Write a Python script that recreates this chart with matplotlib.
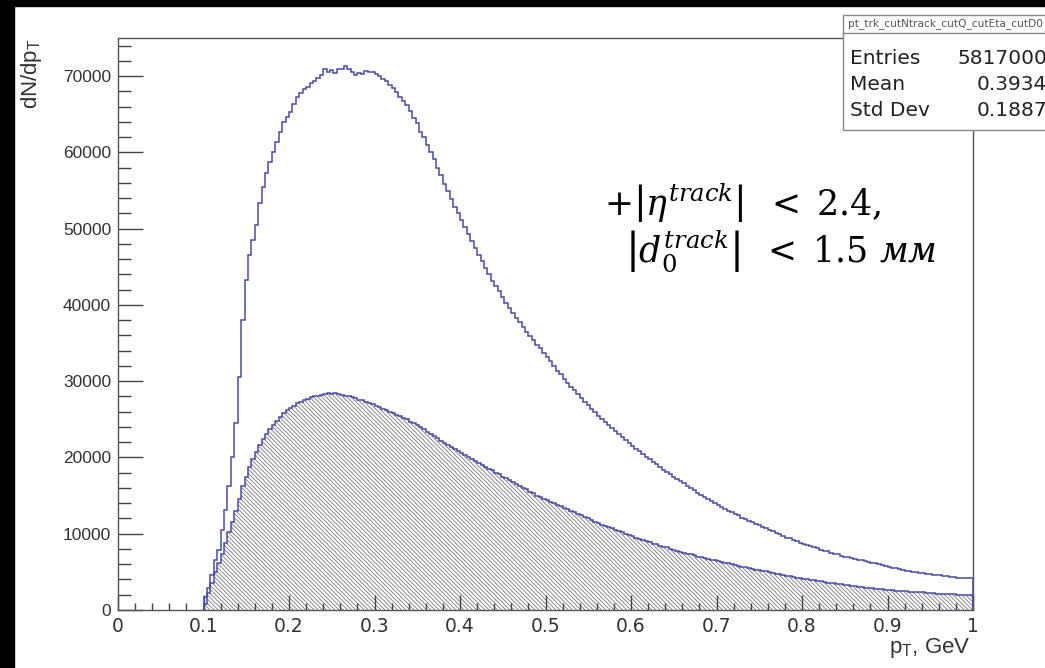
import numpy as np
import matplotlib
matplotlib.use('Agg')
import matplotlib.pyplot as plt
from matplotlib.patches import Rectangle
from matplotlib.lines import Line2D
from matplotlib.ticker import MultipleLocator, FuncFormatter

# histogram binning: 225 bins of 0.004 GeV from 0.1 to 1.0 (everything below 0.1 is empty)
pt_lo = 0.1
pt_hi = 1.0
n_bins = 225

# all tracks (open blue histogram)
counts_all = [
    1700, 2900, 4600, 6600, 7900, 10500, 13100, 16200, 20000, 24500,
    30500, 38000, 43300, 46600, 48500, 50500, 53400, 55400, 57300, 58800,
    60000, 61300, 62700, 64000, 64700, 65300, 66400, 67200, 67800, 68300,
    68600, 69100, 69300, 69700, 70200, 70900, 70500, 70800, 70400, 70900,
    71000, 71300, 70900, 70500, 70200, 70400, 70300, 70700, 70500, 70600,
    70300, 70000, 69600, 69300, 68900, 68400, 67900, 67300, 66800, 66200,
    65400, 64500, 63800, 62700, 62000, 61000, 60100, 59100, 58000, 57100,
    55900, 54900, 53900, 52900, 52000, 51200, 50200, 49300, 48400, 47500,
    46600, 45800, 44900, 44000, 43200, 42500, 41800, 41000, 40300, 39600,
    38900, 38300, 37700, 37100, 36500, 35900, 35400, 34800, 34300, 33700,
    33200, 32600, 32000, 31400, 30900, 30300, 29800, 29300, 28800, 28300,
    27800, 27300, 26900, 26400, 26000, 25500, 25100, 24700, 24300, 23900,
    23500, 23100, 22700, 22300, 21900, 21500, 21100, 20800, 20400, 20100,
    19800, 19400, 19100, 18800, 18400, 18100, 17800, 17500, 17200, 16900,
    16600, 16300, 16000, 15700, 15400, 15100, 14800, 14500, 14300, 14000,
    13800, 13500, 13300, 13000, 12800, 12600, 12400, 12100, 11900, 11700,
    11500, 11300, 11100, 10900, 10700, 10500, 10300, 10100, 9900, 9700,
    9500, 9400, 9200, 9000, 8800, 8700, 8500, 8400, 8200, 8100,
    7900, 7800, 7700, 7500, 7400, 7300, 7100, 7000, 6900, 6800,
    6700, 6600, 6500, 6400, 6300, 6200, 6100, 6000, 5900, 5800,
    5650, 5550, 5450, 5350, 5250, 5150, 5050, 5000, 4950, 4850,
    4800, 4750, 4700, 4650, 4600, 4550, 4450, 4400, 4350, 4300,
    4250, 4250, 4200, 4200, 4150,
]

# tracks after |eta| and |d0| cuts (hatched histogram)
counts_cut = [
    800, 2200, 3600, 5000, 6200, 7400, 8800, 10200, 11600, 13000,
    14600, 16200, 17500, 18700, 19800, 20700, 21600, 22400, 23100, 23700,
    24300, 24800, 25300, 25800, 26200, 26500, 26800, 27100, 27300, 27500,
    27700, 27900, 28000, 28100, 28200, 28300, 28400, 28300, 28400, 28300,
    28200, 28100, 28000, 27900, 27800, 27600, 27500, 27300, 27200, 27000,
    26800, 26600, 26400, 26200, 26000, 25800, 25600, 25400, 25200, 25000,
    24700, 24500, 24200, 24000, 23700, 23400, 23100, 22800, 22500, 22200,
    21900, 21700, 21400, 21100, 20800, 20600, 20300, 20000, 19800, 19500,
    19300, 19000, 18800, 18500, 18300, 18000, 17800, 17500, 17300, 17000,
    16800, 16500, 16300, 16000, 15800, 15500, 15300, 15000, 14800, 14600,
    14400, 14200, 14000, 13800, 13600, 13400, 13200, 13000, 12800, 12600,
    12400, 12200, 12000, 11800, 11600, 11400, 11200, 11000, 10900, 10700,
    10500, 10300, 10200, 10000, 9800, 9700, 9500, 9300, 9200, 9000,
    8900, 8700, 8600, 8400, 8300, 8200, 8000, 7900, 7800, 7600,
    7500, 7400, 7300, 7200, 7000, 6900, 6800, 6700, 6600, 6500,
    6400, 6300, 6200, 6100, 6000, 5900, 5800, 5700, 5600, 5500,
    5400, 5300, 5250, 5150, 5050, 4950, 4850, 4750, 4700, 4600,
    4500, 4450, 4350, 4250, 4200, 4100, 4050, 3950, 3900, 3800,
    3750, 3700, 3600, 3550, 3500, 3400, 3350, 3300, 3250, 3150,
    3100, 3050, 3000, 2950, 2900, 2850, 2800, 2750, 2700, 2650,
    2650, 2600, 2550, 2500, 2500, 2450, 2400, 2350, 2350, 2300,
    2300, 2250, 2200, 2200, 2150, 2150, 2100, 2100, 2050, 2050,
    2000, 2000, 1950, 1950, 1950,
]

# stats box
stats_title = 'pt_trk_cutNtrack_cutQ_cutEta_cutD0'
stats_names = ['Entries', 'Mean', 'Std Dev']
stats_values = ['5817000', '0.3934', '0.1887']

W, H = 1045, 668
blue = '#4a4aa8'

plt.rcParams['font.family'] = ['Liberation Sans', 'DejaVu Sans']
plt.rcParams['mathtext.fontset'] = 'dejavuserif'
plt.rcParams['hatch.linewidth'] = 0.6

edges = np.linspace(pt_lo, pt_hi, n_bins + 1)

fig = plt.figure(figsize=(W / 100, H / 100), dpi=100)
fig.patch.set_facecolor('white')

# axes frame in pixels: x 118..973, y 38..610
ax = fig.add_axes([118 / W, 1 - 610 / H, (973 - 118) / W, (610 - 38) / H])

ax.stairs(counts_cut, edges, baseline=0, fill=True, facecolor='white',
          edgecolor='#7a7a7a', hatch='\\' * 8, linewidth=0, zorder=1)
ax.stairs(counts_all, edges, baseline=0, color=blue, lw=1.1, zorder=2)
ax.stairs(counts_cut, edges, baseline=0, color=blue, lw=1.1, zorder=2)

ax.set_xlim(0, 1)
ax.set_ylim(0, 75000)
ax.xaxis.set_major_locator(MultipleLocator(0.1))
ax.xaxis.set_minor_locator(MultipleLocator(0.02))
ax.yaxis.set_major_locator(MultipleLocator(10000))
ax.yaxis.set_minor_locator(MultipleLocator(2000))
ax.xaxis.set_major_formatter(FuncFormatter(lambda v, p: '%g' % round(v, 2)))
ax.yaxis.set_major_formatter(FuncFormatter(lambda v, p: '%d' % v))

ax.tick_params(axis='both', which='both', direction='in', colors='#444444',
               top=False, right=False, width=1)
ax.tick_params(axis='x', which='major', length=11, labelsize=13.5, pad=5,
               labelcolor='#333333')
ax.tick_params(axis='x', which='minor', length=5)
ax.tick_params(axis='y', which='major', length=18, labelsize=12.5, pad=5,
               labelcolor='#333333')
ax.tick_params(axis='y', which='minor', length=9.5)
for lab in ax.get_xticklabels():
    lab.set_fontfamily('DejaVu Sans')
for s in ax.spines.values():
    s.set_color('#555555')
    s.set_linewidth(1)

# axis titles
fig.text(31 / W, 1 - 38 / H, r'dN/dp$_{\mathregular{T}}$', rotation=90,
         ha='center', va='top', fontsize=16, color='#333333')
fig.text(970 / W, 1 - 653 / H, r'p$_{\mathregular{T}}$, GeV', ha='right',
         va='baseline', fontsize=16, color='#333333')

# cut annotation
fig.text(604 / W, 1 - 216 / H,
         r'${+}\left|\eta^{track}\right|\;\;<\;2.4,$',
         fontsize=25, color='black', va='baseline')
fig.text(625 / W, 1 - 263 / H,
         r'$\left|d_0^{track}\right|\;\;<\;1.5\ \mathit{мм}$',
         fontsize=25, color='black', va='baseline')

# stats box (runs off the right edge)
fig.add_artist(Rectangle((843 / W, 1 - 130 / H), (W - 843) / W + 0.01, 115 / H,
                         transform=fig.transFigure, facecolor='white',
                         edgecolor='#888888', lw=1, zorder=5))
fig.add_artist(Line2D([843 / W, 1.0], [1 - 33 / H] * 2, transform=fig.transFigure,
                      color='#888888', lw=1, zorder=6))
fig.text(848 / W, 1 - 24 / H, stats_title, fontsize=7.6, color='#555555',
         va='center', zorder=7, fontfamily='DejaVu Sans')
for i, (n, v) in enumerate(zip(stats_names, stats_values)):
    y = 1 - (58 + 26.5 * i) / H
    fig.text(850 / W, y, n, fontsize=14.5, color='#222222', va='center',
             zorder=7, fontfamily='DejaVu Sans')
    fig.text(1047 / W, y, v, fontsize=14.5, color='#222222', va='center',
             ha='right', zorder=7, fontfamily='DejaVu Sans')

# black screenshot borders
fig.add_artist(Rectangle((0, 1 - 6 / H), 1, 6 / H, transform=fig.transFigure,
                         color='black', zorder=10))
fig.add_artist(Rectangle((0, 0), 14 / W, 1, transform=fig.transFigure,
                         color='black', zorder=10))

fig.savefig('out.png', dpi=100)
